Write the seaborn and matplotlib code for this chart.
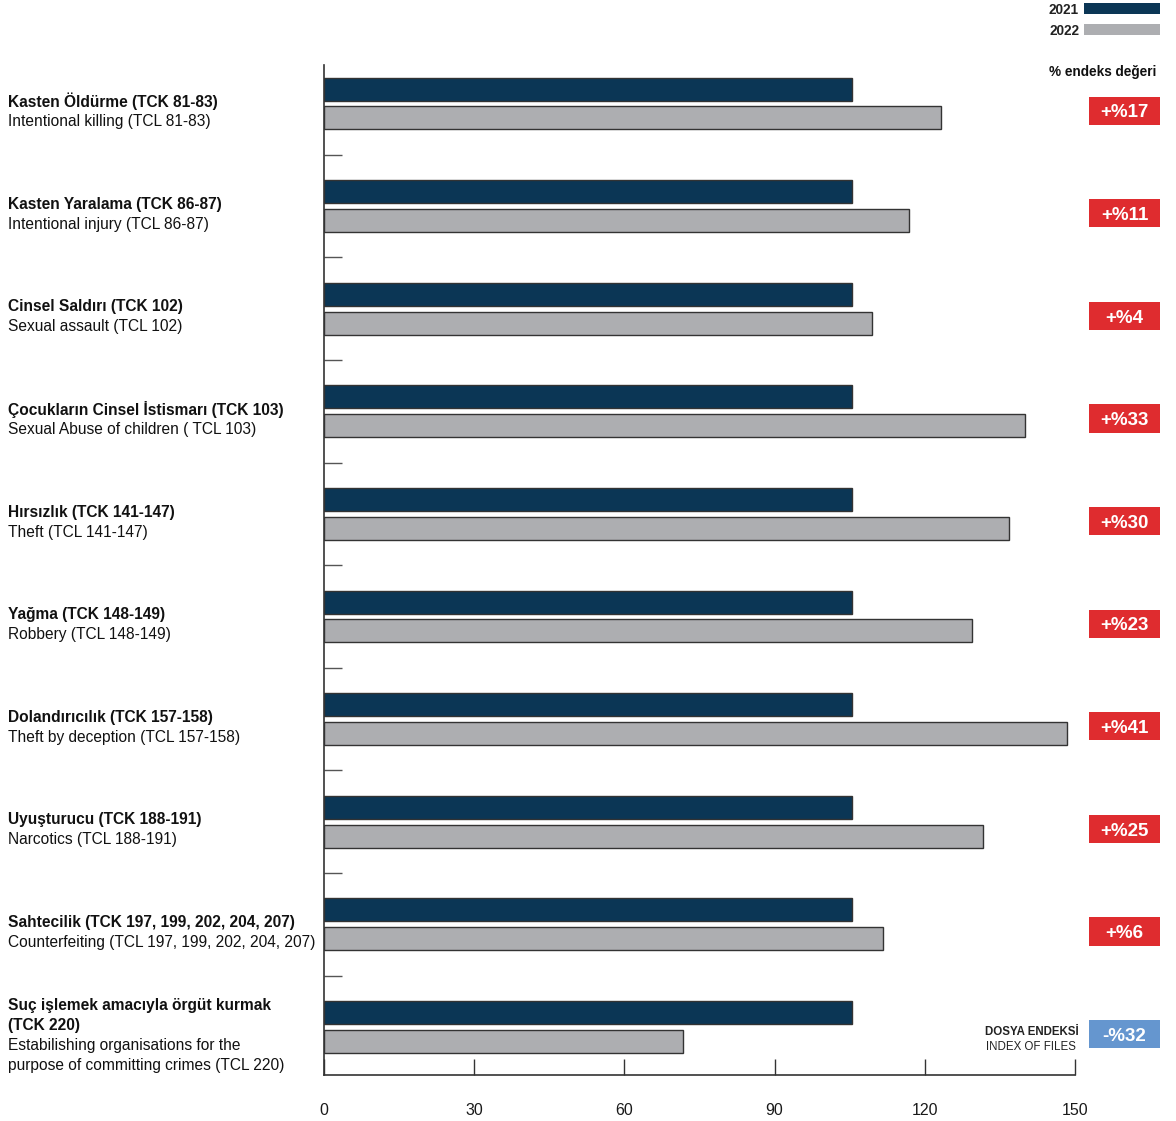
import matplotlib
matplotlib.use("Agg")
import matplotlib.pyplot as plt
import matplotlib.transforms as mtransforms
from matplotlib.patches import Rectangle
import seaborn as sns
import pandas as pd

sns.set_theme(style="white")
plt.rcParams['font.family'] = ['Liberation Sans', 'DejaVu Sans']

# ---------------- data ----------------
labels_tr = ["Kasten Öldürme (TCK 81-83)",
             "Kasten Yaralama (TCK 86-87)",
             "Cinsel Saldırı (TCK 102)",
             "Çocukların Cinsel İstismarı (TCK 103)",
             "Hırsızlık (TCK 141-147)",
             "Yağma (TCK 148-149)",
             "Dolandırıcılık (TCK 157-158)",
             "Uyuşturucu (TCK 188-191)",
             "Sahtecilik (TCK 197, 199, 202, 204, 207)",
             "Suç işlemek amacıyla örgüt kurmak\n(TCK 220)"]
labels_en = ["Intentional killing (TCL 81-83)",
             "Intentional injury (TCL 86-87)",
             "Sexual assault (TCL 102)",
             "Sexual Abuse of children ( TCL 103)",
             "Theft (TCL 141-147)",
             "Robbery (TCL 148-149)",
             "Theft by deception (TCL 157-158)",
             "Narcotics (TCL 188-191)",
             "Counterfeiting (TCL 197, 199, 202, 204, 207)",
             "Estabilishing organisations for the\npurpose of committing crimes (TCL 220)"]
values_2021 = [105.4, 105.4, 105.4, 105.4, 105.4, 105.4, 105.4, 105.4, 105.4, 105.4]
values_2022 = [123.2, 116.8, 109.5, 140.0, 136.8, 129.4, 148.5, 131.6, 111.6, 71.7]
pct_labels = ["+%17", "+%11", "+%4", "+%33", "+%30", "+%23", "+%41", "+%25", "+%6", "-%32"]
years = ["2021", "2022"]
x_ticks = [0, 30, 60, 90, 120, 150]

# ---------------- style ----------------
NAVY = "#0b3655"
GRAY = "#adaeb1"
RED = "#df2c2f"
BLUE = "#6596cf"
EDGE = "#333333"
TXT = "#1a1a1a"

df = pd.DataFrame({
    "cat": labels_en * 2,
    "value": values_2021 + values_2022,
    "year": [years[0]] * len(labels_en) + [years[1]] * len(labels_en),
})

W, H = 1176, 1121
fig = plt.figure(figsize=(W / 100, H / 100), dpi=100)
ax = fig.add_axes([324 / W, 1 - 1075 / H, 751 / W, 1010 / H])

sns.barplot(data=df, x="value", y="cat", hue="year", orient="h",
            palette=[NAVY, GRAY], width=0.56, gap=0.2,
            edgecolor=EDGE, linewidth=1.0, legend=False, ax=ax,
            order=labels_en, hue_order=years, saturation=1)

n = len(labels_en)
ax.set_xlim(0, 150)
ax.set_ylim(9.469, -0.375)
ax.set_xlabel("")
ax.set_ylabel("")

# spines
for s in ["top", "right"]:
    ax.spines[s].set_visible(False)
for s in ["left", "bottom"]:
    ax.spines[s].set_color(EDGE)
    ax.spines[s].set_linewidth(1.2)

# x ticks: inward
ax.set_xticks(x_ticks)
ax.set_xticklabels([str(t) for t in x_ticks], fontsize=11.5, color=TXT)
ax.tick_params(axis="x", which="major", bottom=True, direction="in", length=11.5,
               width=1.0, color=EDGE, pad=20)

# y: no major labels, separator minor ticks
ax.set_yticks(range(n))
ax.set_yticklabels([""] * n)
ax.tick_params(axis="y", which="major", length=0)
ax.set_yticks([i + 0.5 for i in range(n - 1)], minor=True)
ax.tick_params(axis="y", which="minor", direction="in", length=13, width=1.0,
               color="#555555", left=True)

# category labels
trans = mtransforms.blended_transform_factory(fig.transFigure, ax.transData)
for i in range(n):
    tr_lines = labels_tr[i].split("\n")
    en_lines = labels_en[i].split("\n")
    total = len(tr_lines) + len(en_lines)
    line_h = 0.195
    center = i + 0.08
    start = center - (total - 1) / 2 * line_h
    k = 0
    for ln in tr_lines:
        ax.text(8 / W, start + k * line_h, ln, transform=trans, ha="left", va="center",
                fontsize=11.2, fontweight="bold", color="#111111", clip_on=False)
        k += 1
    for ln in en_lines:
        ax.text(8 / W, start + k * line_h, ln, transform=trans, ha="left", va="center",
                fontsize=11.2, color="#111111", clip_on=False)
        k += 1

# right-hand percentage boxes
box_h = 0.275
for i in range(n):
    col = BLUE if pct_labels[i].startswith("-") else RED
    yc = i + 0.07
    rect = Rectangle((1089 / W, yc - box_h / 2), 71 / W, box_h, transform=trans,
                     facecolor=col, edgecolor="none", clip_on=False)
    ax.add_patch(rect)
    ax.text(1124.5 / W, yc + 0.022, pct_labels[i], transform=trans, ha="center", va="center",
            fontsize=13.5, fontweight="bold", color="white", clip_on=False)

# legend (top right)
fig.patches.append(Rectangle((1084 / W, 1 - 14 / H), 76 / W, 11 / H, transform=fig.transFigure,
                             facecolor=NAVY, edgecolor="none"))
fig.patches.append(Rectangle((1084 / W, 1 - 35 / H), 76 / W, 11 / H, transform=fig.transFigure,
                             facecolor=GRAY, edgecolor="none"))
fig.text(1079 / W, 1 - 10 / H, years[0], ha="right", va="center", fontsize=9.8,
         fontweight="bold", color="#222222")
fig.text(1079 / W, 1 - 31 / H, years[1], ha="right", va="center", fontsize=9.8,
         fontweight="bold", color="#222222")
fig.text(1156 / W, 1 - 72 / H, "% endeks değeri", ha="right", va="center", fontsize=9.8,
         fontweight="bold", color="#111111")

# index of files note
fig.text(1079 / W, 1 - 1032 / H, "DOSYA ENDEKSİ", ha="right", va="center", fontsize=8.3,
         fontweight="bold", color="#222222")
fig.text(1076 / W, 1 - 1047 / H, "INDEX OF FILES", ha="right", va="center", fontsize=8.3,
         color="#222222")

fig.savefig("out.png", dpi=100, facecolor="white")
